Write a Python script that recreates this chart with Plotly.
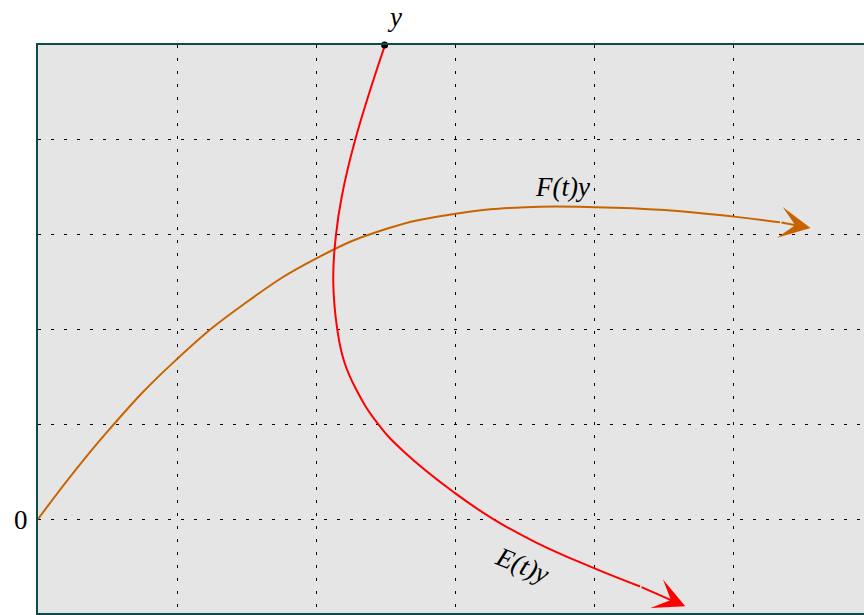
import plotly.graph_objects as go

# F(t)y curve (orange)
F_x = [0, 0.5, 1.0, 1.5, 2.0, 2.5, 3.0, 3.5, 4.0, 4.5, 5.0, 5.33]
F_y = [0, 0.925, 1.69, 2.29, 2.75, 3.06, 3.22, 3.29, 3.29, 3.26, 3.19, 3.13]
F_tip = (5.55, 3.07)

# E(t)y curve (red)
E_x = [2.493, 2.277, 2.182, 2.141, 2.121, 2.150, 2.200, 2.285, 2.445, 2.649, 2.996, 3.271, 3.583, 3.994, 4.325]
E_y = [5.0, 3.99, 3.40, 3.0, 2.52, 2.0, 1.66, 1.37, 1.0, 0.684, 0.274, 0.0, -0.25, -0.517, -0.71]
E_tip = (4.65, -0.92)

start_point = (2.49, 5)

ORANGE = "#c86400"
RED = "#ff0000"
FONT = "Liberation Serif"

fig = go.Figure()
fig.add_trace(go.Scatter(x=F_x, y=F_y, mode="lines", line=dict(color=ORANGE, width=2, shape="spline", smoothing=1.3),
                         hoverinfo="skip", cliponaxis=False))
fig.add_trace(go.Scatter(x=E_x, y=E_y, mode="lines", line=dict(color=RED, width=2, shape="spline", smoothing=1.3),
                         hoverinfo="skip", cliponaxis=False))
fig.add_trace(go.Scatter(x=[start_point[0]], y=[start_point[1]], mode="markers",
                         marker=dict(color="black", size=7), hoverinfo="skip", cliponaxis=False))

# arrowheads
fig.add_annotation(x=F_tip[0], y=F_tip[1], ax=F_x[-1], ay=F_y[-1], xref="x", yref="y",
                   axref="x", ayref="y", showarrow=True, arrowhead=3, arrowsize=2.6,
                   arrowwidth=2, arrowcolor=ORANGE, text="", standoff=0)
fig.add_annotation(x=E_tip[0], y=E_tip[1], ax=E_x[-1], ay=E_y[-1], xref="x", yref="y",
                   axref="x", ayref="y", showarrow=True, arrowhead=3, arrowsize=2.6,
                   arrowwidth=2, arrowcolor=RED, text="", standoff=0)

# labels
fig.add_annotation(x=start_point[0], y=start_point[1], yshift=28, xshift=10, text="<i>y</i>", showarrow=False,
                   font=dict(family=FONT, size=27, color="black"))
fig.add_annotation(x=3.77, y=3.50, text="<i>F(t)y</i>", showarrow=False,
                   font=dict(family=FONT, size=27, color="black"))
fig.add_annotation(x=3.48, y=-0.48, text="<i>E(t)y</i>", showarrow=False, textangle=22,
                   font=dict(family=FONT, size=27, color="black"))

fig.update_layout(
    width=864, height=615,
    margin=dict(l=38, r=0, t=45, b=2),
    paper_bgcolor="white", plot_bgcolor="#e5e5e5",
    showlegend=False,
)
fig.update_xaxes(range=[0, 5.934], dtick=1, tick0=0, showticklabels=False, ticks="",
                 showgrid=True, gridcolor="black", gridwidth=1, griddash="3px,10px",
                 zeroline=False, showline=True, linecolor="#0d4a4a", linewidth=2, mirror=True)
fig.update_yaxes(range=[-0.99, 5], tickvals=[-1, 0, 1, 2, 3, 4, 5], ticktext=["", "0", "", "", "", "", ""],
                 ticks="", showgrid=True, gridcolor="black", gridwidth=1, griddash="3px,10px",
                 zeroline=False, showline=True, linecolor="#0d4a4a", linewidth=2, mirror=False,
                 tickfont=dict(family=FONT, size=27, color="black"), ticklabelstandoff=3)

fig.write_html("out.html", config={"displayModeBar": False},
               post_script="document.body.style.margin='0';document.body.style.overflow='hidden';")
